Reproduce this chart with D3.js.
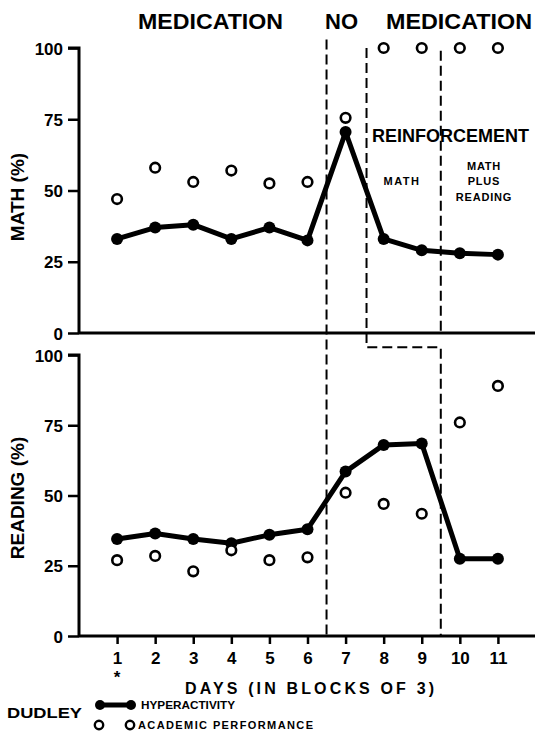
<!DOCTYPE html>
<html>
<head>
<meta charset="utf-8">
<script src="https://cdn.jsdelivr.net/npm/d3@7"></script>
<style>
  html, body { margin: 0; padding: 0; background: #fff; }
  svg { display: block; font-family: "Liberation Sans", Arial, sans-serif; font-weight: bold; }
</style>
</head>
<body>
<svg id="chart" width="535" height="736"></svg>
<script>
// ---- data ----
const days = [1, 2, 3, 4, 5, 6, 7, 8, 9, 10, 11];
const yTicks = [0, 25, 50, 75, 100];
const mathHyperactivity = [33, 37, 38, 33, 37, 32.5, 70.5, 33, 29, 28, 27.5];
const mathAcademic = [47, 58, 53, 57, 52.5, 53, 75.5, 100, 100, 100, 100];
const readingHyperactivity = [34.5, 36.5, 34.5, 33, 36, 38, 58.5, 68, 68.5, 27.5, 27.5];
const readingAcademic = [27, 28.5, 23, 30.5, 27, 28, 51, 47, 43.5, 76, 89];
// phase-change dashed lines: [panel, day, value]
const phaseLine1 = [["math", 6.5, 103], ["reading", 6.5, 0]];
const phaseLine2 = [["math", 7.55, 100], ["math", 7.55, -5], ["math", 9.5, -5], ["reading", 9.5, 0]];
const phaseLine3 = [["math", 9.5, 99], ["math", 9.5, 0]];

const svg = d3.select("#chart");
const x = d3.scaleLinear().domain([0, 12]).range([79, 536]);
const yScales = {
  math: d3.scaleLinear().domain([0, 100]).range([333, 48]),
  reading: d3.scaleLinear().domain([0, 100]).range([636, 355])
};

function drawPanel(key, hyper, acad, label, labelY, showXTicks) {
  const y = yScales[key];
  const g = svg.append("g");
  // y axis
  const ya = g.append("g").attr("transform", `translate(${x(0)},0)`)
    .call(d3.axisLeft(y).tickValues(yTicks).tickSize(11).tickPadding(5).tickFormat(d3.format("d")));
  ya.select(".domain").attr("stroke-width", 3).attr("d", `M-11,${y(100)}H0V${y(0)}`);
  ya.selectAll(".tick line").attr("stroke-width", 2.5);
  ya.selectAll(".tick text").attr("font-size", 17).attr("font-family", "Liberation Sans, Arial, sans-serif")
    .attr("font-weight", "bold").attr("fill", "#000").attr("dy", "0.36em");
  // x axis
  const xa = g.append("g").attr("transform", `translate(0,${y(0)})`)
    .call(d3.axisBottom(x).tickValues(showXTicks ? days : []).tickSize(8).tickPadding(8).tickFormat(d3.format("d")));
  xa.select(".domain").attr("stroke-width", 3).attr("d", `M${x(0)},0H535`);
  xa.selectAll(".tick line").attr("stroke-width", 2.5);
  xa.selectAll(".tick text").attr("font-size", 17).attr("font-family", "Liberation Sans, Arial, sans-serif")
    .attr("font-weight", "bold").attr("fill", "#000");
  // y label
  g.append("text").attr("transform", `translate(24,${labelY}) rotate(-90)`)
    .attr("text-anchor", "middle").attr("font-size", 19).text(label);
  // hyperactivity line
  const line = d3.line().x((d, i) => x(days[i])).y(d => y(d));
  g.append("path").datum(hyper).attr("d", line).attr("fill", "none")
    .attr("stroke", "#000").attr("stroke-width", 5).attr("stroke-linejoin", "round");
  g.selectAll("circle.h").data(hyper).join("circle").attr("class", "h")
    .attr("cx", (d, i) => x(days[i])).attr("cy", d => y(d)).attr("r", 6).attr("fill", "#000");
  g.selectAll("circle.a").data(acad).join("circle").attr("class", "a")
    .attr("cx", (d, i) => x(days[i])).attr("cy", d => y(d)).attr("r", 4.8)
    .attr("fill", "#fff").attr("stroke", "#000").attr("stroke-width", 2.6);
}

drawPanel("math", mathHyperactivity, mathAcademic, "MATH (%)", 197, false);
drawPanel("reading", readingHyperactivity, readingAcademic, "READING (%)", 498, true);

// dashed phase lines
const pl = d3.line().x(d => x(d[1])).y(d => yScales[d[0]](d[2]));
[phaseLine1, phaseLine2, phaseLine3].forEach(p => {
  svg.append("path").datum(p).attr("d", pl).attr("fill", "none").attr("stroke", "#000")
    .attr("stroke-width", 2).attr("stroke-dasharray", "10,5");
});

// titles
svg.append("text").attr("x", 138).attr("y", 29).attr("font-size", 22)
  .attr("textLength", 145).attr("lengthAdjust", "spacingAndGlyphs").text("MEDICATION");
const nm = svg.append("text").attr("y", 29).attr("font-size", 22);
nm.append("tspan").attr("x", 325).text("NO");
nm.append("tspan").attr("x", 386).attr("textLength", 146).attr("lengthAdjust", "spacingAndGlyphs").text("MEDICATION");

svg.append("text").attr("x", 372).attr("y", 142).attr("font-size", 18).text("REINFORCEMENT");
svg.append("text").attr("x", 402).attr("y", 185).attr("font-size", 11).attr("text-anchor", "middle")
  .attr("letter-spacing", 1.5).text("MATH");
[["MATH", 170], ["PLUS", 185], ["READING", 201]].forEach(([t, yy]) => {
  svg.append("text").attr("x", 484).attr("y", yy).attr("font-size", 11).attr("text-anchor", "middle")
    .attr("letter-spacing", 0.8).text(t);
});

// x axis title & asterisk
svg.append("text").attr("x", x(1)).attr("y", 683).attr("font-size", 17).attr("text-anchor", "middle").text("*");
svg.append("text").attr("x", 185).attr("y", 694).attr("font-size", 16)
  .attr("textLength", 249).attr("lengthAdjust", "spacing").text("DAYS (IN BLOCKS OF 3)");

// legend
svg.append("text").attr("x", 7).attr("y", 718).attr("font-size", 15)
  .attr("textLength", 75).attr("lengthAdjust", "spacingAndGlyphs").text("DUDLEY");
svg.append("line").attr("x1", 100).attr("x2", 131).attr("y1", 705).attr("y2", 705)
  .attr("stroke", "#000").attr("stroke-width", 5);
[100, 131].forEach(cx => svg.append("circle").attr("cx", cx).attr("cy", 705).attr("r", 5).attr("fill", "#000"));
[99, 130].forEach(cx => svg.append("circle").attr("cx", cx).attr("cy", 725).attr("r", 4.2)
  .attr("fill", "#fff").attr("stroke", "#000").attr("stroke-width", 2.4));
svg.append("text").attr("x", 141).attr("y", 709).attr("font-size", 11)
  .attr("textLength", 94).attr("lengthAdjust", "spacingAndGlyphs").text("HYPERACTIVITY");
svg.append("text").attr("x", 138).attr("y", 729).attr("font-size", 11)
  .attr("textLength", 175).attr("lengthAdjust", "spacing").text("ACADEMIC PERFORMANCE");
</script>
</body>
</html>
